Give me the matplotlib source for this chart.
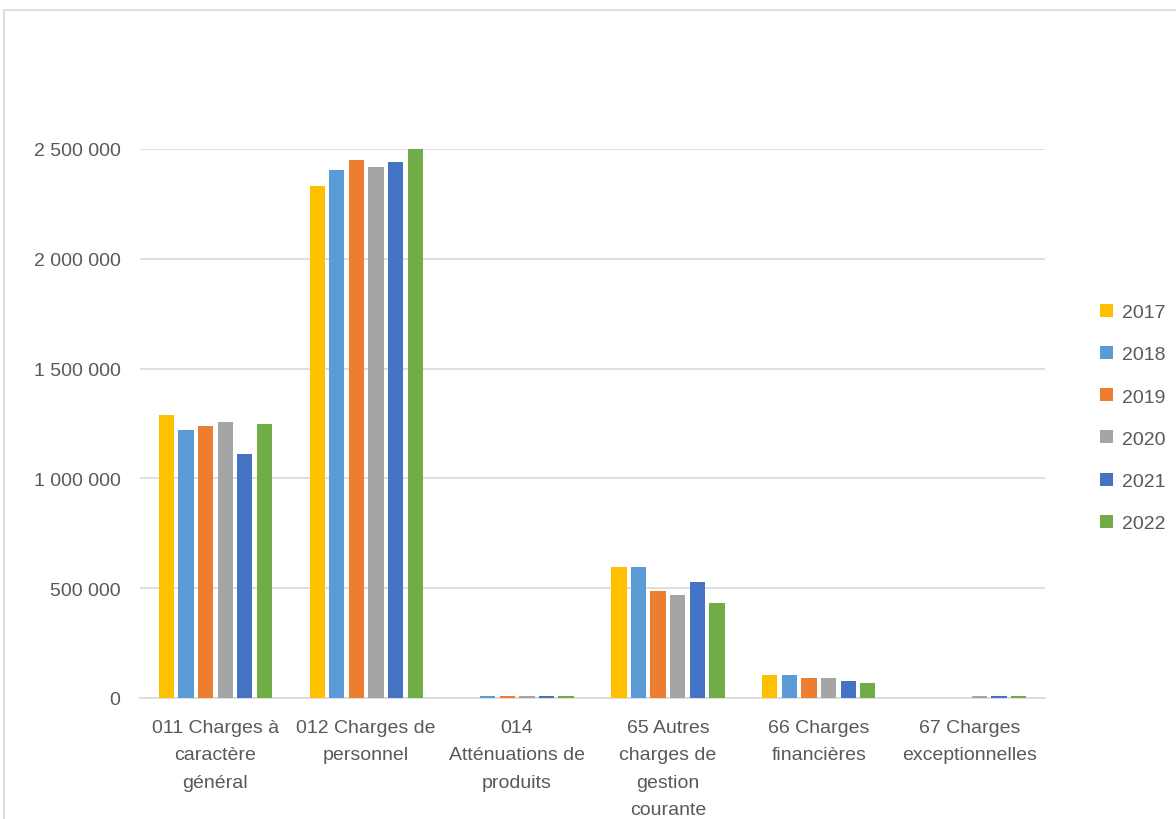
import numpy as np
import matplotlib
matplotlib.use('Agg')
import matplotlib.pyplot as plt
from matplotlib.ticker import FuncFormatter, MultipleLocator
from matplotlib.patches import Rectangle

plt.rcParams['font.family'] = ['Liberation Sans', 'DejaVu Sans']

categories = ['011 Charges à\ncaractère\ngénéral',
              '012 Charges de\npersonnel',
              '014\nAtténuations de\nproduits',
              '65 Autres\ncharges de\ngestion\ncourante',
              '66 Charges\nfinancières',
              '67 Charges\nexceptionnelles']

years = ['2017', '2018', '2019', '2020', '2021', '2022']

v2017 = [1290000, 2330000, 0, 598000, 104000, 0]
v2018 = [1222000, 2406000, 10000, 598000, 104000, 0]
v2019 = [1239000, 2450000, 10000, 486000, 89000, 0]
v2020 = [1257000, 2417000, 10000, 469000, 89000, 10000]
v2021 = [1110000, 2441000, 10000, 529000, 78000, 10000]
v2022 = [1248000, 2505000, 10000, 434000, 69000, 10000]

series = [v2017, v2018, v2019, v2020, v2021, v2022]
colors = ['#FFC000', '#5B9BD5', '#ED7D31', '#A5A5A5', '#4472C4', '#70AD47']


def fmt(v, pos):
    return '{:,.0f}'.format(v).replace(',', ' ')


fig = plt.figure(figsize=(11.76, 8.2), dpi=100)
ax = fig.add_axes([140 / 1176, 1 - 699 / 820, 905 / 1176, 549 / 820])

x = np.arange(len(categories))
n = len(series)
group = 0.78
width = group / n
for i in range(n):
    ax.bar(x - group / 2 + width * (i + 0.5), series[i], width * 0.78,
           color=colors[i], label=years[i], zorder=3)

ax.set_xlim(-0.5, len(categories) - 0.5)
ax.set_ylim(0, 2500000)
ax.yaxis.set_major_locator(MultipleLocator(500000))
ax.yaxis.set_major_formatter(FuncFormatter(fmt))
ax.grid(axis='y', color='#d9d9d9', linewidth=1.2, zorder=0)
ax.set_axisbelow(True)
for s in ['top', 'right', 'left']:
    ax.spines[s].set_visible(False)
ax.spines['bottom'].set_color('#d9d9d9')
ax.spines['bottom'].set_linewidth(1.2)
ax.spines['bottom'].set_zorder(0)

ax.set_xticks(x)
ax.set_xticklabels(categories, linespacing=1.8)
ax.tick_params(axis='both', length=0, labelsize=14, colors='#595959')
ax.tick_params(axis='x', pad=15)
ax.tick_params(axis='y', pad=14)

leg = ax.legend(loc='center left', bbox_to_anchor=(1.061, 0.51), frameon=False,
                fontsize=14, handlelength=0.65, handleheight=0.65,
                labelspacing=1.28, handletextpad=0.45,
                borderpad=0, borderaxespad=0)
for t in leg.get_texts():
    t.set_color('#595959')

# chart area border
fig.patches.append(Rectangle((4 / 1176, -0.01), 1.2, 1 - 11 / 820 + 0.01,
                             transform=fig.transFigure, fill=False,
                             edgecolor='#d9d9d9', linewidth=1.2))

fig.savefig('out.png', dpi=100, facecolor='white')
